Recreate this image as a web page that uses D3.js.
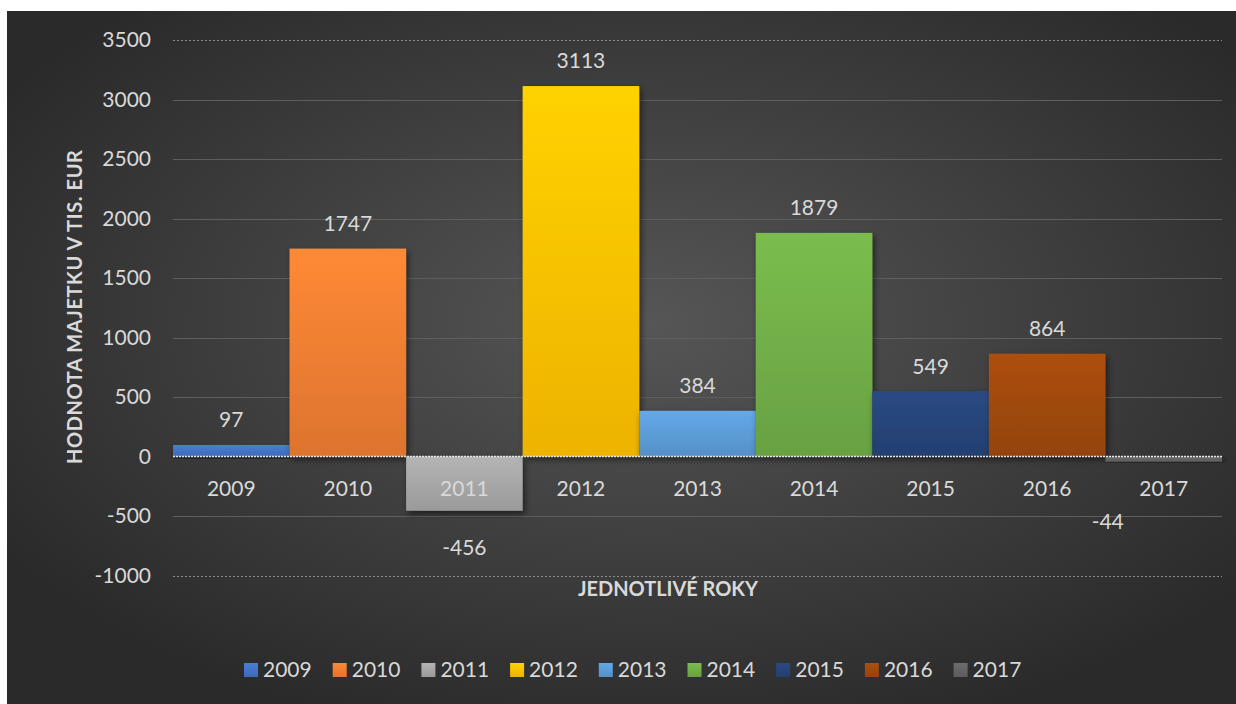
<!DOCTYPE html>
<html>
<head>
<meta charset="utf-8">
<script src="https://cdn.jsdelivr.net/npm/d3@7"></script>
<style>
  body { margin: 0; background: #fff; }
  svg { display: block; font-family: Lato, "Open Sans", sans-serif; }
</style>
</head>
<body>
<svg id="chart"></svg>
<script>
const width = 1236;
const height = 704;
const margin = { top: 40, bottom: 128, left: 173, right: 14 };

// data
const years = ["2009", "2010", "2011", "2012", "2013", "2014", "2015", "2016", "2017"];
const values = [97, 1747, -456, 3113, 384, 1879, 549, 864, -44];
const colors = ["#4472C4", "#ED7D31", "#A5A5A5", "#FFC000", "#5B9BD5", "#70AD47", "#264478", "#9E480E", "#636363"];
const yTicks = [-1000, -500, 0, 500, 1000, 1500, 2000, 2500, 3000, 3500];

const svg = d3.select("#chart")
    .attr("width", width)
    .attr("height", height);

const defs = svg.append("defs");

// background gradient
const bg = defs.append("radialGradient")
    .attr("id", "bgGrad")
    .attr("cx", "52%").attr("cy", "45%").attr("r", "62%");
bg.append("stop").attr("offset", "0%").attr("stop-color", "#565656");
bg.append("stop").attr("offset", "100%").attr("stop-color", "#2a2a2a");

// bar gradients
colors.forEach((c, i) => {
    const g = defs.append("linearGradient")
        .attr("id", "barGrad" + i)
        .attr("x1", 0).attr("y1", 0).attr("x2", 0).attr("y2", 1);
    g.append("stop").attr("offset", "0%").attr("stop-color", d3.color(c).brighter(0.25));
    g.append("stop").attr("offset", "100%").attr("stop-color", d3.color(c).darker(0.2));
});

const shadow = defs.append("filter")
    .attr("id", "shadow")
    .attr("x", "-10%").attr("y", "-10%").attr("width", "130%").attr("height", "130%");
shadow.append("feDropShadow")
    .attr("dx", 2).attr("dy", 3)
    .attr("stdDeviation", 3)
    .attr("flood-color", "#000")
    .attr("flood-opacity", 0.55);

svg.append("rect")
    .attr("x", 7).attr("y", 11)
    .attr("width", width - 7).attr("height", height - 11)
    .attr("fill", "url(#bgGrad)");

const yScale = d3.scaleLinear()
    .domain([-1000, 3500])
    .range([575.5, 40]);

const xScale = d3.scaleBand()
    .domain(years)
    .range([margin.left, width - margin.right])
    .padding(0);

// grid
svg.append("g")
    .selectAll("line")
    .data(yTicks.filter(t => t !== 0))
    .join("line")
    .attr("x1", margin.left)
    .attr("x2", width - margin.right)
    .attr("y1", d => Math.round(yScale(d)) + 0.5)
    .attr("y2", d => Math.round(yScale(d)) + 0.5)
    .attr("stroke", d => (d === 3500 || d === -1000) ? "#8a8a8a" : "#5e5e5e")
    .attr("stroke-width", 1)
    .attr("stroke-dasharray", d => (d === 3500 || d === -1000) ? "2,2" : null);

// y axis labels
const yAxis = svg.append("g")
    .attr("transform", `translate(${151},0)`)
    .call(d3.axisLeft(yScale).tickValues(yTicks).tickSize(0).tickPadding(0)
        .tickFormat(d => String(d)));
yAxis.select(".domain").remove();
yAxis.selectAll("text")
    .attr("fill", "#d9d9d9")
    .attr("font-size", "21px")
    .attr("font-family", "Lato, 'Open Sans', sans-serif");

// bars
svg.append("g")
    .selectAll("rect")
    .data(values)
    .join("rect")
    .attr("x", (d, i) => xScale(years[i]))
    .attr("y", d => yScale(Math.max(0, d)))
    .attr("width", xScale.bandwidth())
    .attr("height", d => Math.abs(yScale(d) - yScale(0)))
    .attr("fill", (d, i) => "url(#barGrad" + i + ")")
    .attr("filter", "url(#shadow)");

// zero line
svg.append("line")
    .attr("x1", margin.left)
    .attr("x2", width - margin.right)
    .attr("y1", yScale(0))
    .attr("y2", yScale(0))
    .attr("stroke", "#e6e6e6")
    .attr("stroke-width", 1.5)
    .attr("stroke-dasharray", "2,1");

// category labels
svg.append("g")
    .selectAll("text")
    .data(years)
    .join("text")
    .attr("x", d => xScale(d) + xScale.bandwidth() / 2)
    .attr("y", 489)
    .attr("dy", "0.35em")
    .attr("text-anchor", "middle")
    .attr("fill", "#d9d9d9")
    .attr("font-size", "21px")
    .text(d => d);

// value labels
svg.append("g")
    .selectAll("text")
    .data(values)
    .join("text")
    .attr("x", (d, i) => {
        const cx = xScale(years[i]) + xScale.bandwidth() / 2;
        // small negative bar label is pushed aside like in the original
        return (d < 0 && Math.abs(yScale(d) - yScale(0)) < 20) ? cx - 56 : cx;
    })
    .attr("y", d => d >= 0 ? yScale(d) - 25 : Math.max(yScale(d) + 37, yScale(-500) + 6))
    .attr("dy", "0.35em")
    .attr("text-anchor", "middle")
    .attr("fill", "#d9d9d9")
    .attr("font-size", "21px")
    .text(d => d);

// axis titles
svg.append("text")
    .attr("x", 668)
    .attr("y", 589)
    .attr("dy", "0.35em")
    .attr("text-anchor", "middle")
    .attr("fill", "#d9d9d9")
    .attr("font-size", "20px")
    .attr("font-weight", "bold")
    .attr("textLength", 180)
    .text("JEDNOTLIVÉ ROKY");

svg.append("text")
    .attr("transform", "translate(75,307) rotate(-90)")
    .attr("dy", "0.35em")
    .attr("text-anchor", "middle")
    .attr("fill", "#d9d9d9")
    .attr("font-size", "20px")
    .attr("font-weight", "bold")
    .attr("textLength", 314)
    .text("HODNOTA MAJETKU V TIS. EUR");

// legend
const legend = svg.append("g")
    .attr("transform", "translate(244,670)");
const item = legend.selectAll("g")
    .data(years)
    .join("g")
    .attr("transform", (d, i) => `translate(${i * 88.7},0)`);
item.append("rect")
    .attr("x", 0).attr("y", -7)
    .attr("width", 14).attr("height", 14)
    .attr("fill", (d, i) => "url(#barGrad" + i + ")");
item.append("text")
    .attr("x", 19)
    .attr("dy", "0.35em")
    .attr("fill", "#d9d9d9")
    .attr("font-size", "21px")
    .text(d => d);
</script>
</body>
</html>
